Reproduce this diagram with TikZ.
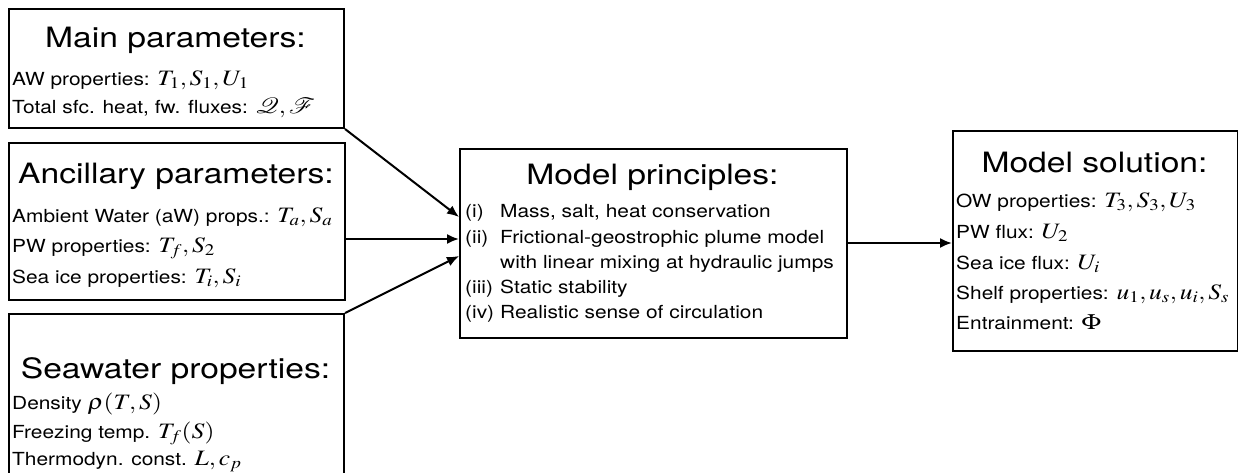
\documentclass[tikz,border=0pt]{standalone}
\usepackage{graphicx}
\usepackage{mathptmx}
\usepackage[no-math]{fontspec}
\setmainfont{TeX Gyre Heros}
\usetikzlibrary{arrows.meta}
\newcommand{\ttlx}[1]{\scalebox{1.2}[1]{#1}}
\newcommand{\txtx}[1]{\scalebox{1.16}[1]{#1}}
\newcommand{\mth}[1]{{\fontsize{22}{24}\selectfont$#1$}}
\begin{document}
\begin{tikzpicture}[x=1pt,y=-1pt,
  box/.style={draw, line width=2pt, inner sep=0pt, anchor=north west},
  ttl/.style={anchor=base, inner sep=0pt, font=\fontsize{28}{32}\selectfont},
  txt/.style={anchor=base west, inner sep=0pt, font=\fontsize{18}{21}\selectfont},
  arr/.style={line width=2pt, -{Latex[length=12pt,width=10pt]}}]
\clip (0,0) rectangle (1238,472);
% boxes
\node[box, minimum width=335pt, minimum height=119pt] (main) at (8,8) {};
\node[box, minimum width=336pt, minimum height=157pt] (anc) at (8,142) {};
\node[box, minimum width=335pt, minimum height=200pt] (sea) at (8,313) {};
\node[box, minimum width=387pt, minimum height=189pt] (prin) at (459,148) {};
\node[box, minimum width=285pt, minimum height=220pt] (sol) at (952,130) {};
% main parameters
\node[ttl] (mt) at (175.5,47) {\ttlx{Main parameters:}};
\node[txt] (m1) at (12,85) {\txtx{AW properties: \mth{T_1, S_1, U_1}}};
\node[txt] (m2) at (12,113) {\txtx{Total sfc. heat, fw. fluxes: \mth{\mathcal{Q}, \mathcal{F}}}};
% ancillary
\node[ttl] (at) at (176,183) {\ttlx{Ancillary parameters:}};
\node[txt] (a1) at (12,222) {\txtx{Ambient Water (aW) props.: \mth{T_a, S_a}}};
\node[txt] (a2) at (12,252) {\txtx{PW properties: \mth{T_f, S_2}}};
\node[txt] (a3) at (12,283) {\txtx{Sea ice properties: \mth{T_i, S_i}}};
% seawater
\node[ttl] (st) at (175.5,378) {\ttlx{Seawater properties:}};
\node[txt] (s1) at (12,409) {\txtx{Density \mth{\rho(T,S)}}};
\node[txt] (s2) at (12,438) {\txtx{Freezing temp. \mth{T_f(S)}}};
\node[txt] (s3) at (12,465) {\txtx{Thermodyn. const. \mth{L, c_p}}};
% principles
\node[ttl] (pt) at (652.5,184) {\ttlx{Model principles:}};
\node[txt] (pl1) at (465,217) {\txtx{(i)}};
\node[txt] (p1t) at (500,217) {\txtx{Mass, salt, heat conservation}};
\node[txt] (pl2) at (465,243) {\txtx{(ii)}};
\node[txt] (p2t) at (500,243) {\txtx{Frictional-geostrophic plume model}};
\node[txt] (p2u) at (500,268) {\txtx{with linear mixing at hydraulic jumps}};
\node[txt] (pl3) at (465,293) {\txtx{(iii)}};
\node[txt] (p3t) at (500,293) {\txtx{Static stability}};
\node[txt] (pl4) at (465,318) {\txtx{(iv)}};
\node[txt] (p4t) at (500,318) {\txtx{Realistic sense of circulation}};
% solution
\node[ttl] (ot) at (1094.5,172) {\ttlx{Model solution:}};
\node[txt] (o1) at (956,207) {\txtx{OW properties: \mth{T_3, S_3, U_3}}};
\node[txt] (o2) at (956,238) {\txtx{PW flux: \mth{U_2}}};
\node[txt] (o3) at (956,269) {\txtx{Sea ice flux: \mth{U_i}}};
\node[txt] (o4) at (956,299) {\txtx{Shelf properties: \mth{u_1, u_s, u_i, S_s}}};
\node[txt] (o5) at (956,329) {\txtx{Entrainment: \mth{\Phi}}};
% connectors
\coordinate (c1) at (459,217);
\coordinate (c2) at (459,239);
\coordinate (c3) at (459,256);
\coordinate (c4) at (952,243);
\draw[arr] (main.south east) -- (c1);
\draw[arr] (anc.east |- c2) -- (c2);
\draw[arr] (sea.north east) -- (c3);
\draw[arr] (prin.east |- c4) -- (sol.west |- c4);
\end{tikzpicture}
\end{document}
